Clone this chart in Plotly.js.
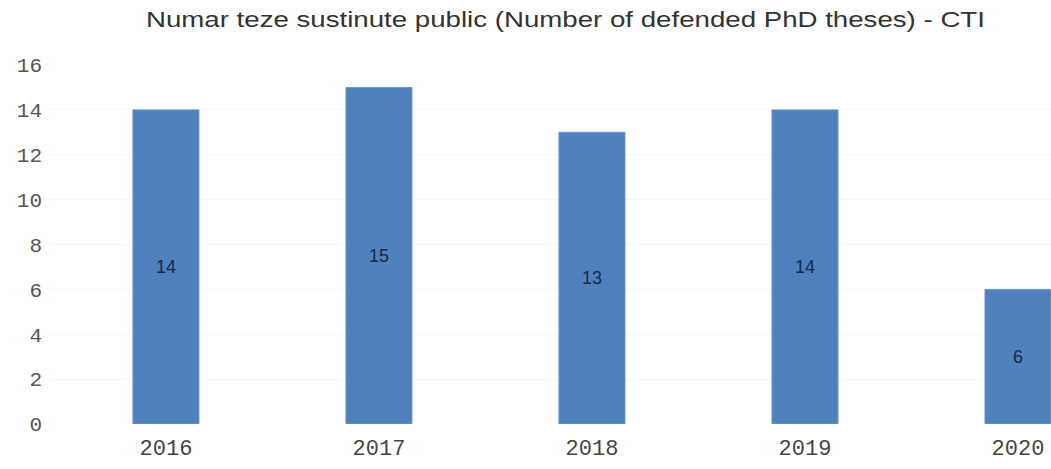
<!DOCTYPE html>
<html>
<head>
<meta charset="utf-8">
<script src="https://cdn.plot.ly/plotly-3.0.1.min.js"></script>
<style>html,body{margin:0;padding:0;background:#fff;}#chart{width:1051px;height:469px;}</style>
</head>
<body>
<div id="chart"></div>
<script>
const years = ["2016", "2017", "2018", "2019", "2020"];
const theses = [14, 15, 13, 14, 6];
const yTicks = [0, 2, 4, 6, 8, 10, 12, 14, 16];
const chartTitle = "Numar teze sustinute public (Number of defended PhD theses) - CTI";

const trace = {
  type: "bar",
  x: years,
  y: theses,
  text: theses.map(String),
  textposition: "inside",
  insidetextanchor: "middle",
  textangle: 0,
  textfont: {family: "Liberation Sans, Arial, sans-serif", size: 18, color: "#17294a"},
  width: 0.31,
  marker: {color: "#4f81bd", line: {color: "#6b98cc", width: 1}},
  hoverinfo: "none"
};

const layout = {
  width: 1051,
  height: 469,
  margin: {l: 49, r: 0, t: 65, b: 45},
  paper_bgcolor: "#ffffff",
  plot_bgcolor: "#ffffff",
  showlegend: false,
  title: {
    text: chartTitle,
    x: 0.538,
    xanchor: "center",
    y: 0.958,
    yanchor: "middle",
    font: {family: "Liberation Sans, Arial, sans-serif", size: 22, color: "#333333"}
  },
  xaxis: {
    type: "category",
    range: [-0.549, 4.155],
    showgrid: false,
    zeroline: false,
    showline: false,
    ticks: "",
    tickfont: {family: "Liberation Mono, DejaVu Sans Mono, monospace", size: 22, color: "#444444"},
    ticklabelstandoff: 8
  },
  yaxis: {
    range: [0, 16],
    tickvals: yTicks,
    ticktext: yTicks.map(String),
    showgrid: true,
    gridcolor: "#f7f7f7",
    zeroline: false,
    showline: false,
    ticks: "",
    tickfont: {family: "Liberation Mono, DejaVu Sans Mono, monospace", size: 21, color: "#555555"},
    ticklabelstandoff: 6
  }
};

Plotly.newPlot("chart", [trace], layout, {displayModeBar: false, staticPlot: true}).then(function (gd) {
  const t = gd.querySelector(".gtitle");
  if (t) {
    t.setAttribute("textLength", "839");
    t.setAttribute("lengthAdjust", "spacingAndGlyphs");
  }
});
</script>
</body>
</html>
